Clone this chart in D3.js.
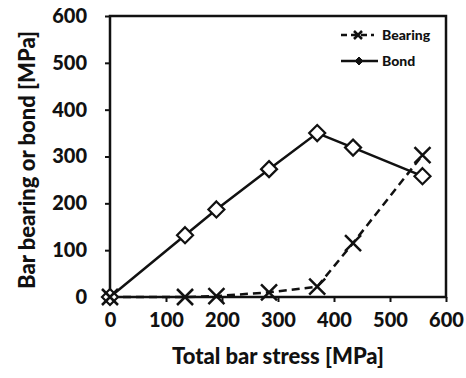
<!DOCTYPE html>
<html>
<head>
<meta charset="utf-8">
<script src="https://cdn.jsdelivr.net/npm/d3@7"></script>
<style>
  body { margin: 0; background: #fff; }
  text { font-family: Lato, "Open Sans", sans-serif; font-weight: 900; fill: #111; }
</style>
</head>
<body>
<svg id="chart" width="466" height="378"></svg>
<script>
// values
var stress = [0, 134, 190, 284, 370, 434, 558];
var bearing = [0, 0, 2, 10, 22, 115, 303];
var bond = [0, 132, 187, 273, 350, 319, 258];
var xTicks = [0, 100, 200, 300, 400, 500, 600];
var yTicks = [0, 100, 200, 300, 400, 500, 600];

var svg = d3.select("#chart");
var plotLeft = 110, plotRight = 446, plotTop = 16, plotBottom = 297;

var x = d3.scaleLinear().domain([0, 600]).range([plotLeft, plotRight]);
var y = d3.scaleLinear().domain([0, 600]).range([plotBottom, plotTop]);

// frame
svg.append("rect")
  .attr("x", plotLeft).attr("y", plotTop)
  .attr("width", plotRight - plotLeft).attr("height", plotBottom - plotTop)
  .style("fill", "none").style("stroke", "#111").style("stroke-width", 2.5);

var xAxis = d3.axisBottom(x).tickValues(xTicks).tickSize(5).tickPadding(11);
svg.append("g").attr("id", "xAxisG").attr("transform", "translate(0," + plotBottom + ")").call(xAxis);
var yAxis = d3.axisLeft(y).tickValues(yTicks).tickSize(5).tickPadding(18);
svg.append("g").attr("id", "yAxisG").attr("transform", "translate(" + plotLeft + ",0)").call(yAxis);

svg.selectAll("path.domain").remove();
svg.selectAll(".tick line").style("stroke", "#111").style("stroke-width", 2);
svg.selectAll(".tick text").style("font-family", "Lato, sans-serif").style("font-weight", "900")
  .style("font-size", "20px").style("fill", "#111");

var line = d3.line()
  .x(function(d) { return x(d[0]); })
  .y(function(d) { return y(d[1]); });

var bearingPts = stress.map(function(s, i) { return [s, bearing[i]]; });
var bondPts = stress.map(function(s, i) { return [s, bond[i]]; });

svg.append("path").datum(bondPts).attr("d", line)
  .style("fill", "none").style("stroke", "#111").style("stroke-width", 2.5);
svg.append("path").datum(bearingPts).attr("d", line)
  .style("fill", "none").style("stroke", "#111").style("stroke-width", 2.5)
  .style("stroke-dasharray", "8,5");

// diamond markers
svg.selectAll("path.bond").data(bondPts).enter()
  .append("path").attr("class", "bond")
  .attr("d", "M0,-8 L8,0 L0,8 L-8,0 Z")
  .attr("transform", function(d) { return "translate(" + x(d[0]) + "," + y(d[1]) + ")"; })
  .style("fill", "#fff").style("stroke", "#111").style("stroke-width", 2.2);

// cross markers
svg.selectAll("path.bearing").data(bearingPts).enter()
  .append("path").attr("class", "bearing")
  .attr("d", "M-8,-8 L8,8 M-8,8 L8,-8")
  .attr("transform", function(d) { return "translate(" + x(d[0]) + "," + y(d[1]) + ")"; })
  .style("fill", "none").style("stroke", "#111").style("stroke-width", 2.5);

// legend
var lg = svg.append("g");
lg.append("line").attr("x1", 341).attr("x2", 374).attr("y1", 35).attr("y2", 35)
  .style("stroke", "#111").style("stroke-width", 2.5).style("stroke-dasharray", "6,4");
lg.append("path").attr("d", "M-4,-4 L4,4 M-4,4 L4,-4").attr("transform", "translate(358,35)")
  .style("stroke", "#111").style("stroke-width", 2.5);
lg.append("text").attr("x", 382).attr("y", 40).style("font-size", "14px").text("Bearing");
lg.append("line").attr("x1", 341).attr("x2", 378).attr("y1", 61).attr("y2", 61)
  .style("stroke", "#111").style("stroke-width", 2.5);
lg.append("path").attr("d", "M0,-4 L4,0 L0,4 L-4,0 Z").attr("transform", "translate(359,61)")
  .style("fill", "#111").style("stroke", "#111").style("stroke-width", 1);
lg.append("text").attr("x", 382).attr("y", 66).style("font-size", "14px").text("Bond");

// axis titles
svg.append("text").attr("x", 278).attr("y", 364).attr("text-anchor", "middle")
  .style("font-size", "22px").text("Total bar stress [MPa]");
svg.append("text").attr("transform", "translate(35,160) rotate(-90)").attr("text-anchor", "middle")
  .style("font-size", "22px").text("Bar bearing or bond [MPa]");
</script>
</body>
</html>
